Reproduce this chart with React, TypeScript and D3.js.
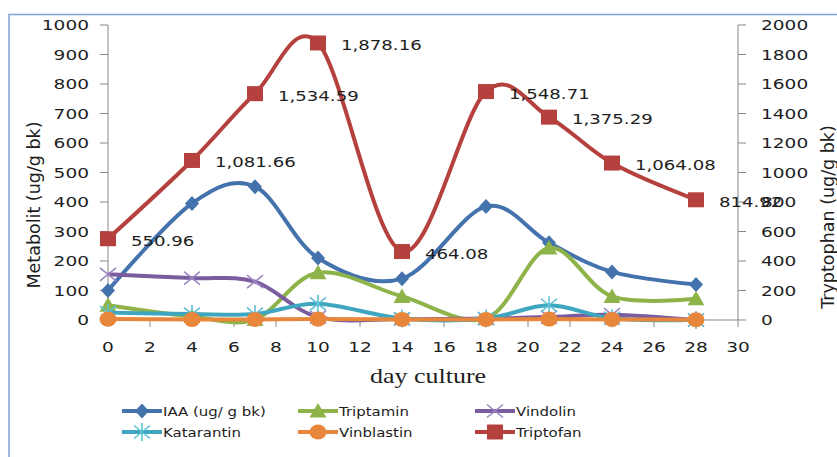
import React from "react";
import * as d3 from "d3";

const days = [0, 4, 7, 10, 14, 18, 21, 24, 28];
const iaa = [100, 395, 452, 210, 140, 385, 262, 163, 120];
const triptamin = [50, 12, 2, 160, 80, 5, 244, 80, 72];
const vindolin = [155, 142, 130, 10, 3, 5, 10, 18, 0];
const katarantin = [25, 20, 20, 55, 5, 5, 50, 6, 0];
const vinblastin = [3, 2, 2, 3, 2, 2, 3, 2, 1];
const triptofan = [550.96, 1081.66, 1534.59, 1878.16, 464.08, 1548.71, 1375.29, 1064.08, 814.92];

const leftTicks = [0, 100, 200, 300, 400, 500, 600, 700, 800, 900, 1000];
const rightTicks = [0, 200, 400, 600, 800, 1000, 1200, 1400, 1600, 1800, 2000];
const xTicks = [0, 2, 4, 6, 8, 10, 12, 14, 16, 18, 20, 22, 24, 26, 28, 30];

const seriesNames = ["IAA (ug/ g bk)", "Triptamin", "Vindolin", "Katarantin", "Vinblastin", "Triptofan"];

const FONT = "'DejaVu Sans', Verdana, sans-serif";
const SX = 1.28;

type MarkerKind = "diamond" | "triangle" | "x" | "star" | "circle" | "square";

const COLORS = {
  blue: "#4372AD",
  green: "#8DB349",
  purple: "#7A5C9F",
  teal: "#3FA6BF",
  orange: "#E8873C",
  red: "#B5413E",
};

function Marker({ kind, x, y, color }: { kind: MarkerKind; x: number; y: number; color: string }) {
  switch (kind) {
    case "diamond":
      return <path d={`M${x},${y - 7.5}L${x + 7},${y}L${x},${y + 7.5}L${x - 7},${y}Z`} fill={color} />;
    case "triangle":
      return <path d={`M${x},${y - 8}L${x + 8.5},${y + 6.5}L${x - 8.5},${y + 6.5}Z`} fill={color} />;
    case "square":
      return <rect x={x - 8} y={y - 7.5} width={16} height={15} fill={color} />;
    case "circle":
      return <ellipse cx={x} cy={y} rx={8.5} ry={7.5} fill={color} />;
    case "x":
      return (
        <path
          d={`M${x - 8},${y - 6.5}L${x + 8},${y + 6.5}M${x - 8},${y + 6.5}L${x + 8},${y - 6.5}`}
          stroke="#9C87C2"
          strokeWidth={1.6}
          fill="none"
        />
      );
    case "star":
      return (
        <path
          d={`M${x - 8},${y - 6.5}L${x + 8},${y + 6.5}M${x - 8},${y + 6.5}L${x + 8},${y - 6.5}M${x},${y - 9}L${x},${y + 9}`}
          stroke="#5DBFD6"
          strokeWidth={1.6}
          fill="none"
        />
      );
  }
  return null;
}

function SText({
  x,
  y,
  size,
  anchor = "start",
  sx = SX,
  family = FONT,
  children,
}: {
  x: number;
  y: number;
  size: number;
  anchor?: string;
  sx?: number;
  family?: string;
  children: React.ReactNode;
}) {
  return (
    <text
      transform={`translate(${x},${y}) scale(${sx},1)`}
      textAnchor={anchor as any}
      fontSize={size}
      fontFamily={family}
      fill="#1e1e1e"
    >
      {children}
    </text>
  );
}

export default function App() {
  const x = d3.scaleLinear().domain([0, 30]).range([108, 738]);
  const yL = d3.scaleLinear().domain([0, 1000]).range([320, 25]);
  const yR = d3.scaleLinear().domain([0, 2000]).range([320, 25]);

  const series: { name: string; values: number[]; color: string; marker: MarkerKind; axis: "L" | "R" }[] = [
    { name: seriesNames[0], values: iaa, color: COLORS.blue, marker: "diamond", axis: "L" },
    { name: seriesNames[1], values: triptamin, color: COLORS.green, marker: "triangle", axis: "L" },
    { name: seriesNames[2], values: vindolin, color: COLORS.purple, marker: "x", axis: "L" },
    { name: seriesNames[3], values: katarantin, color: COLORS.teal, marker: "star", axis: "L" },
    { name: seriesNames[4], values: vinblastin, color: COLORS.orange, marker: "circle", axis: "L" },
    { name: seriesNames[5], values: triptofan, color: COLORS.red, marker: "square", axis: "R" },
  ];

  const line = d3
    .line<[number, number]>()
    .x((d) => d[0])
    .y((d) => d[1])
    .curve(d3.curveCardinal.tension(0));

  const fmt = d3.format(",.2f");

  const legendCols = [122, 298, 475];
  const legendRows = [411, 432];

  return (
    <svg
      width={837}
      height={457}
      style={{ position: "absolute", left: 0, top: 0, background: "#fff" }}
    >
      <rect x={0} y={0} width={837} height={457} fill="#fff" />
      {/* outer chart border */}
      <path d="M9,457V14.5H837" fill="none" stroke="#7FA4D8" strokeWidth={1.5} />

      {/* left axis */}
      <line x1={x(0)} x2={x(0)} y1={yL(1000)} y2={yL(0)} stroke="#878787" strokeWidth={1} />
      {leftTicks.map((t) => (
        <g key={"l" + t}>
          <line x1={x(0) - 8} x2={x(0)} y1={yL(t)} y2={yL(t)} stroke="#878787" />
          <SText x={89} y={yL(t) + 5.3} size={14.5} anchor="end">
            {t}
          </SText>
        </g>
      ))}

      {/* right axis */}
      <line x1={x(30)} x2={x(30)} y1={yR(2000)} y2={yR(0)} stroke="#878787" strokeWidth={1} />
      {rightTicks.map((t) => (
        <g key={"r" + t}>
          <line x1={x(30)} x2={x(30) + 8} y1={yR(t)} y2={yR(t)} stroke="#878787" />
          <SText x={761} y={yR(t) + 5.3} size={14.5}>
            {t}
          </SText>
        </g>
      ))}

      {/* x axis */}
      <line x1={x(0)} x2={x(30)} y1={yL(0)} y2={yL(0)} stroke="#878787" strokeWidth={1} />
      {xTicks.map((t) => (
        <g key={"x" + t}>
          <line x1={x(t)} x2={x(t)} y1={yL(0)} y2={yL(0) + 7} stroke="#878787" />
          <SText x={x(t)} y={351.5} size={14.5} anchor="middle">
            {t}
          </SText>
        </g>
      ))}

      {/* axis titles */}
      <text
        transform={`translate(40,205) rotate(-90)`}
        textAnchor="middle"
        fontSize={17.5}
        fontFamily={FONT}
        fill="#1e1e1e"
      >
        Metabolit (ug/g bk)
      </text>
      <text
        transform={`translate(834,217) rotate(-90)`}
        textAnchor="middle"
        fontSize={17.5}
        fontFamily={FONT}
        fill="#1e1e1e"
      >
        Tryptophan (ug/g bk)
      </text>
      <SText x={428} y={383} size={20} anchor="middle" sx={1.3} family="'Liberation Serif', 'Times New Roman', serif">
        day culture
      </SText>

      {/* series */}
      {series.map((s) => {
        const ys = s.axis === "L" ? yL : yR;
        const pts: [number, number][] = days.map((d, i) => [x(d), ys(s.values[i])]);
        return (
          <g key={s.name}>
            <path d={line(pts) || ""} fill="none" stroke={s.color} strokeWidth={4} strokeLinejoin="round" />
            {pts.map((p, i) => (
              <Marker key={i} kind={s.marker} x={p[0]} y={p[1]} color={s.color} />
            ))}
          </g>
        );
      })}

      {/* data labels for Triptofan */}
      {days.map((d, i) => (
        <SText key={"dl" + i} x={x(d) + 23} y={yR(triptofan[i]) + 7} size={14.5} sx={1.25}>
          {fmt(triptofan[i])}
        </SText>
      ))}

      {/* legend */}
      {series.map((s, i) => {
        const col = legendCols[i % 3];
        const row = legendRows[Math.floor(i / 3)];
        return (
          <g key={"lg" + i}>
            <line x1={col} x2={col + 40} y1={row} y2={row} stroke={s.color} strokeWidth={4} />
            <Marker kind={s.marker} x={col + 20} y={row} color={s.color} />
            <SText x={col + 41} y={row + 5} size={13} sx={1.15}>
              {s.name}
            </SText>
          </g>
        );
      })}
    </svg>
  );
}
